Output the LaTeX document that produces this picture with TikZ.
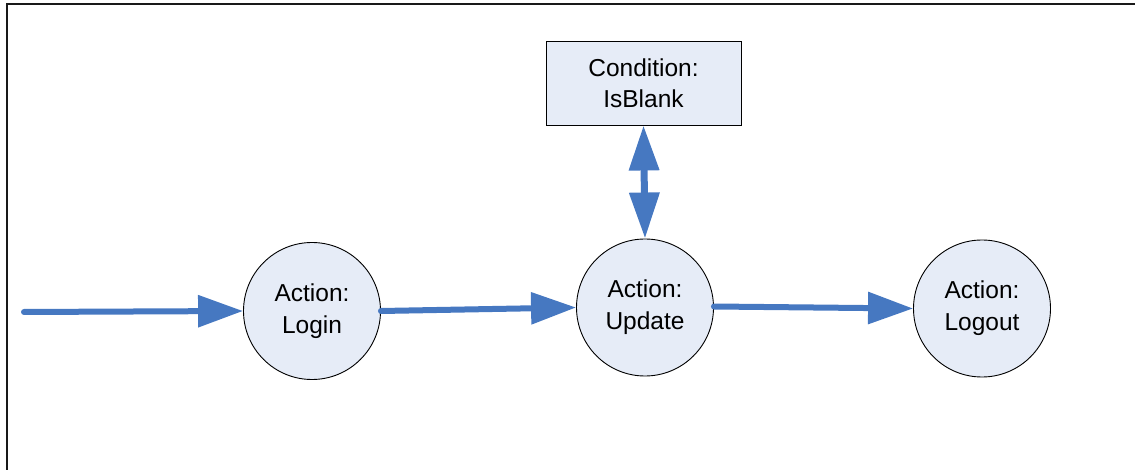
\documentclass[tikz,border=0pt]{standalone}
\usepackage{fontspec}
\setmainfont{Liberation Sans}
\usetikzlibrary{arrows.meta}
\definecolor{flowblue}{RGB}{70,120,193}
\definecolor{nodefill}{RGB}{230,236,247}
\begin{document}
\begin{tikzpicture}[x=1pt,y=-1pt,
  actnode/.style={circle,draw=black,line width=0.9pt,fill=nodefill,minimum size=137pt,inner sep=0pt,
    align=center,font=\fontsize{24.5}{32}\selectfont},
  condnode/.style={rectangle,draw=black,line width=0.9pt,fill=nodefill,minimum width=195pt,minimum height=84pt,
    inner sep=0pt,align=center,font=\fontsize{24.5}{31}\selectfont},
  flow/.style={draw=flowblue,line width=6pt,line cap=round,-{Triangle[length=45pt,width=31pt]}},
  dflow/.style={draw=flowblue,line width=7pt,{Triangle[length=45pt,width=29pt]}-{Triangle[length=46pt,width=29pt]}}]
\useasboundingbox (0,0) rectangle (1135,470);
\draw[line width=2pt,color=black!90] (7,470) -- (7,4) -- (1135,4);
\node[actnode] (login) at (312,311) {Action:\\Login};
\node[actnode] (update) at (645,307.5) {Action:\\Update};
\node[actnode] (logout) at (982,308.5) {Action:\\Logout};
\node[condnode] (cond) at (643.5,83) {Condition:\\IsBlank};
\coordinate (start) at (24,312);
\draw[flow] (start) -- (login.west);
\draw[flow] (login.east) -- (update.west);
\draw[flow] ([yshift=1pt]update.east) -- (logout.west);
\draw[dflow] (cond.south) -- (update.north);
\end{tikzpicture}
\end{document}
